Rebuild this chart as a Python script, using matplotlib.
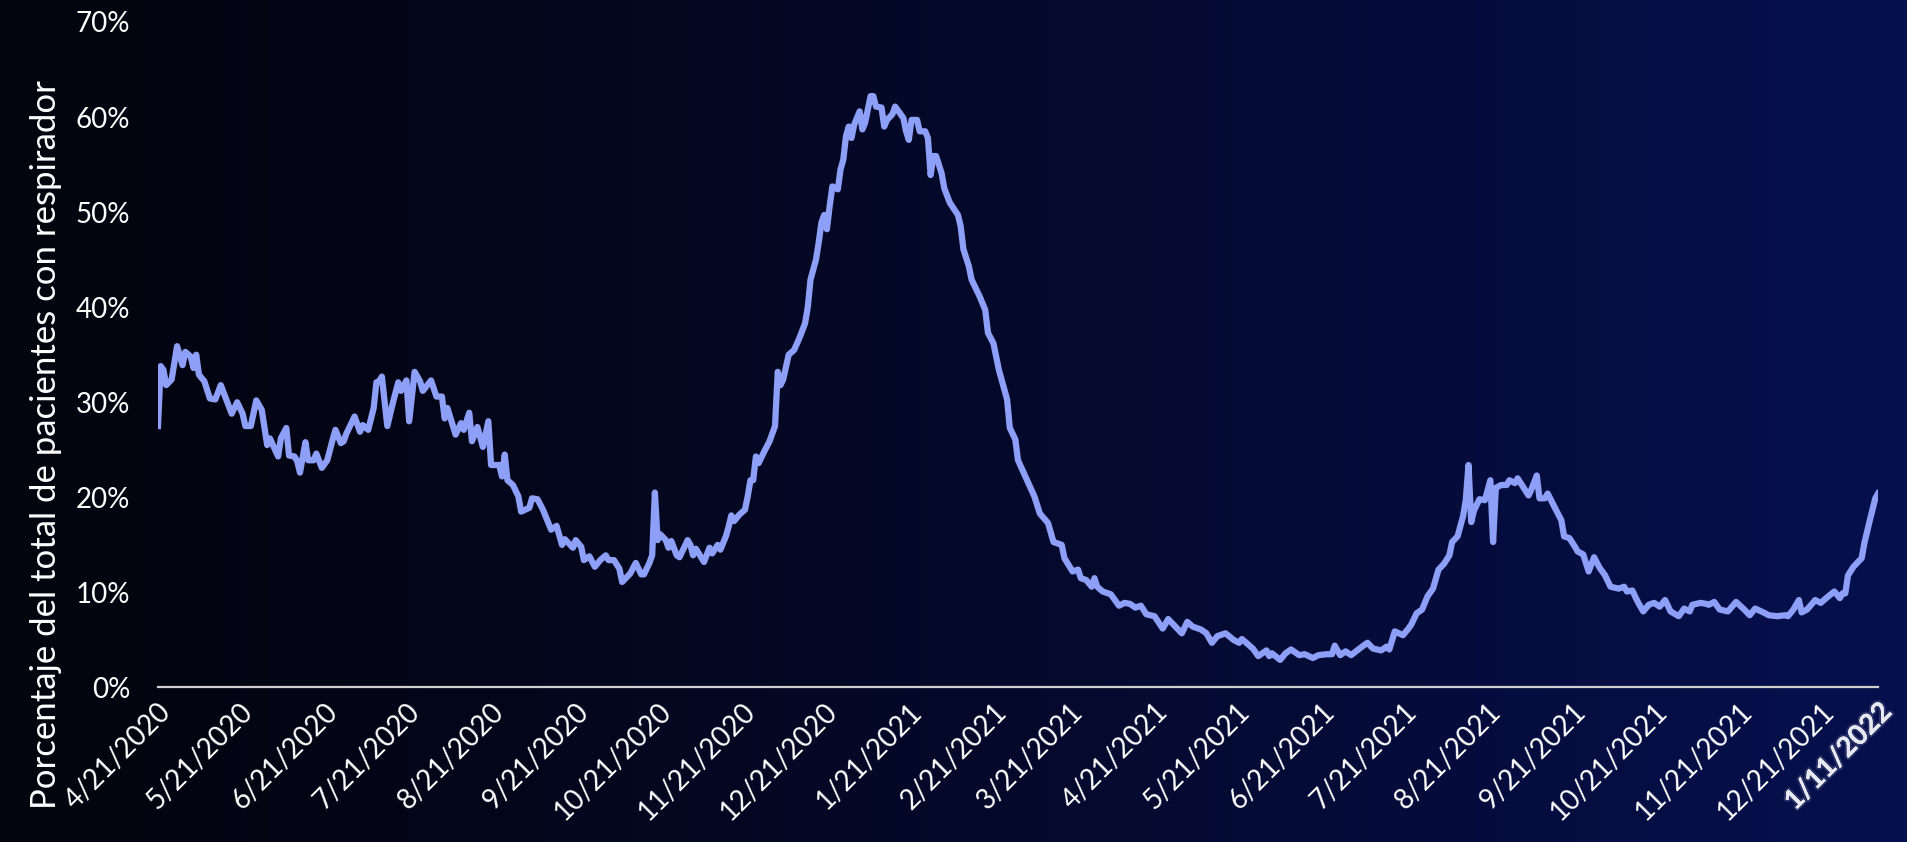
import matplotlib
matplotlib.use('Agg')
import matplotlib.pyplot as plt
import matplotlib.ticker as mtick
import matplotlib.patheffects as pe
import numpy as np
import pandas as pd

# dias desde el 21/4/2020 y porcentaje de pacientes con respirador
inicio = '2020-04-21'
dias = [0, 1, 2, 3, 5, 7, 9, 10, 12, 13, 14, 15, 17, 19, 21, 23, 25, 27, 29, 31,
        32, 34, 36, 38, 40, 41, 44, 45, 47, 48, 50, 51, 52, 54, 55, 57, 58, 60, 62, 64,
        65, 67, 68, 69, 72, 74, 75, 77, 79, 80, 81, 82, 84, 86, 88, 89, 91, 92, 94, 96,
        97, 100, 102, 104, 105, 106, 109, 111, 112, 114, 115, 117, 119, 121, 122, 125, 126, 127, 128, 130,
        132, 133, 136, 137, 139, 141, 144, 146, 148, 149, 152, 153, 155, 156, 158, 160, 162, 164, 165, 167,
        169, 170, 173, 175, 177, 178, 180, 181, 182, 183, 184, 186, 187, 188, 190, 191, 194, 195, 196, 197,
        200, 202, 203, 205, 206, 208, 209, 210, 211, 213, 215, 216, 217, 218, 219, 220, 222, 224, 226, 227,
        228, 229, 231, 233, 235, 237, 238, 239, 241, 242, 243, 244, 245, 246, 247, 249, 250, 251, 252, 253,
        254, 255, 257, 258, 259, 261, 262, 263, 265, 266, 267, 269, 270, 272, 273, 274, 275, 276, 278, 279,
        281, 282, 283, 284, 285, 287, 288, 290, 293, 294, 295, 297, 298, 301, 303, 304, 306, 308, 311, 312,
        314, 315, 318, 321, 323, 326, 328, 331, 332, 335, 337, 338, 340, 342, 343, 344, 346, 349, 352, 354,
        356, 358, 360, 362, 365, 368, 370, 372, 375, 377, 379, 382, 384, 386, 388, 391, 394, 396, 397, 399,
        401, 403, 406, 407, 408, 411, 413, 415, 418, 420, 423, 425, 428, 430, 431, 433, 435, 437, 441, 443,
        445, 448, 450, 451, 453, 456, 458, 459, 461, 463, 465, 467, 469, 471, 473, 474, 476, 478, 479, 480,
        481, 482, 484, 486, 488, 489, 490, 492, 494, 495, 497, 498, 500, 502, 503, 505, 506, 508, 509, 512,
        514, 515, 517, 519, 520, 522, 524, 526, 528, 530, 532, 535, 537, 538, 540, 542, 544, 546, 548, 550,
        552, 554, 557, 559, 561, 562, 565, 567, 568, 570, 572, 575, 578, 581, 583, 585, 588, 590, 593, 596,
        597, 599, 601, 602, 604, 607, 609, 611, 614, 616, 617, 618, 619, 621, 624, 625, 627, 629, 630]
pct = [27.5, 33.8, 33.4, 31.8, 32.4, 35.9, 33.9, 35.3, 34.8, 33.6, 35.0, 32.9, 32.2, 30.4, 30.3, 31.8, 30.3, 28.8, 30.0, 28.8,
       27.5, 27.5, 30.2, 29.2, 25.5, 26.2, 24.3, 26.2, 27.3, 24.4, 24.3, 23.8, 22.6, 25.8, 23.9, 23.9, 24.6, 23.1, 23.9, 26.1,
       27.1, 25.7, 25.9, 26.7, 28.5, 26.9, 27.6, 27.1, 29.4, 32.1, 32.2, 32.7, 27.5, 29.9, 32.1, 31.2, 32.3, 28.0, 33.2, 32.2,
       31.2, 32.3, 30.6, 30.6, 28.3, 29.4, 26.6, 27.8, 27.1, 28.9, 25.9, 27.4, 25.3, 28.0, 23.4, 23.4, 22.2, 24.5, 21.8, 21.3,
       20.1, 18.5, 18.9, 19.9, 19.8, 18.7, 16.6, 17.0, 15.0, 15.6, 14.7, 15.5, 14.8, 13.4, 13.8, 12.7, 13.4, 13.9, 13.4, 13.4,
       12.5, 11.1, 12.0, 13.1, 11.9, 11.9, 13.1, 13.9, 20.5, 15.5, 16.1, 15.5, 14.7, 15.4, 13.9, 13.7, 15.5, 15.0, 13.9, 14.6,
       13.2, 14.7, 14.1, 15.0, 14.5, 15.9, 16.9, 18.1, 17.5, 18.2, 18.7, 20.1, 21.8, 21.8, 24.3, 23.6, 24.8, 25.9, 27.5, 33.2,
       31.8, 32.4, 35.0, 35.5, 36.8, 38.3, 40.0, 42.9, 45.0, 46.8, 48.9, 49.7, 48.2, 50.6, 52.7, 52.4, 54.5, 55.5, 58.0, 59.0,
       57.8, 59.2, 60.6, 58.7, 59.4, 62.2, 62.2, 61.1, 61.0, 59.0, 59.7, 60.3, 61.1, 60.3, 59.9, 58.5, 57.6, 59.7, 59.7, 58.5,
       58.5, 57.8, 53.9, 55.9, 55.9, 54.1, 52.5, 51.0, 49.7, 48.5, 46.1, 44.3, 42.9, 41.1, 39.7, 37.3, 36.2, 33.4, 30.3, 27.3,
       26.1, 23.9, 22.0, 20.1, 18.3, 17.3, 15.3, 15.0, 13.6, 12.2, 12.4, 11.5, 11.3, 10.6, 11.5, 10.6, 10.1, 9.8, 8.6, 8.9,
       8.8, 8.4, 8.6, 7.7, 7.5, 6.2, 7.2, 6.6, 5.7, 6.9, 6.4, 6.1, 5.7, 4.7, 5.4, 5.7, 5.0, 4.7, 5.1, 4.6,
       4.1, 3.3, 3.9, 3.3, 3.6, 2.9, 3.6, 4.0, 3.4, 3.5, 3.1, 3.4, 3.5, 3.5, 4.4, 3.4, 3.8, 3.4, 4.3, 4.7,
       4.1, 3.9, 4.3, 4.0, 5.9, 5.5, 6.2, 6.6, 7.8, 8.2, 9.6, 10.4, 12.4, 13.0, 13.9, 15.3, 15.9, 18.0, 19.7, 23.4,
       17.4, 18.6, 19.8, 19.7, 21.8, 15.3, 21.0, 21.3, 21.3, 21.8, 21.5, 22.0, 21.1, 20.2, 20.8, 22.3, 19.9, 19.9, 20.4, 18.7,
       17.6, 15.9, 15.7, 14.8, 14.3, 14.0, 12.2, 13.7, 12.6, 11.8, 10.6, 10.4, 10.6, 10.1, 10.2, 9.0, 8.0, 8.7, 8.9, 8.5,
       9.2, 8.0, 7.5, 8.3, 8.0, 8.7, 8.9, 8.8, 8.7, 9.0, 8.2, 8.0, 9.0, 8.2, 7.6, 8.3, 7.9, 7.6, 7.5, 7.6,
       7.5, 8.2, 9.2, 7.9, 8.2, 9.2, 8.9, 9.4, 10.1, 9.4, 9.9, 9.9, 11.8, 12.7, 13.6, 15.2, 17.6, 19.9, 20.4]

etiquetas_fecha = ['4/21/2020', '5/21/2020', '6/21/2020', '7/21/2020', '8/21/2020', '9/21/2020',
                   '10/21/2020', '11/21/2020', '12/21/2020', '1/21/2021', '2/21/2021', '3/21/2021',
                   '4/21/2021', '5/21/2021', '6/21/2021', '7/21/2021', '8/21/2021', '9/21/2021',
                   '10/21/2021', '11/21/2021', '12/21/2021', '1/11/2022']
y_ticks = [0, 10, 20, 30, 40, 50, 60, 70]

fechas = pd.Timestamp(inicio) + pd.to_timedelta(dias, unit='D')
tick_fechas = pd.to_datetime(etiquetas_fecha, format='%m/%d/%Y')

plt.rcParams['font.family'] = ['Lato', 'DejaVu Sans']

fig = plt.figure(figsize=(19.08, 8.42), dpi=100)

# fondo degradado
bg = fig.add_axes([0, 0, 1, 1], zorder=-10)
grad = np.linspace(0, 1, 512)
left = np.array([3, 4, 14]) / 255
right = np.array([6, 16, 78]) / 255
img = left[None, :] + (right - left)[None, :] * grad[:, None] ** 1.2
bg.imshow(img[None, :, :], aspect='auto', extent=[0, 1, 0, 1])
bg.axis('off')

ax = fig.add_axes([0.0828, 0.1835, 0.9015, 0.7904])
ax.patch.set_alpha(0)
ax.plot(fechas, pct, color='#8d9ff6', lw=4.5, solid_joinstyle='round', zorder=3)
ax.axhline(0, color='#cfcfcf', lw=1.6, zorder=2, clip_on=False)

ax.set_xlim(fechas[0], fechas[-1])
ax.set_ylim(0, 70)
ax.set_yticks(y_ticks)
ax.yaxis.set_major_formatter(mtick.PercentFormatter(100, 0))
ax.set_xticks(tick_fechas)
ax.set_xticklabels(etiquetas_fecha, rotation=45, ha='right', va='top',
                   rotation_mode='anchor')
ax.tick_params(axis='both', length=0, colors='white')
ax.tick_params(axis='y', pad=20, labelsize=20)
ax.tick_params(axis='x', pad=8, labelsize=20)
for s in ax.spines.values():
    s.set_visible(False)

ultima = ax.get_xticklabels()[-1]
ultima.set_fontweight('bold')
ultima.set_color('#e8e8f0')
ultima.set_path_effects([pe.withStroke(linewidth=3, foreground=(0.8, 0.8, 0.9, 0.18)), pe.Normal()])

fig.text(0.024, 1 - 445 / 842, 'Porcentaje del total de pacientes con respirador',
         rotation=90, ha='center', va='center', color='white', fontsize=25)

fig.savefig('out.png', dpi=100)
